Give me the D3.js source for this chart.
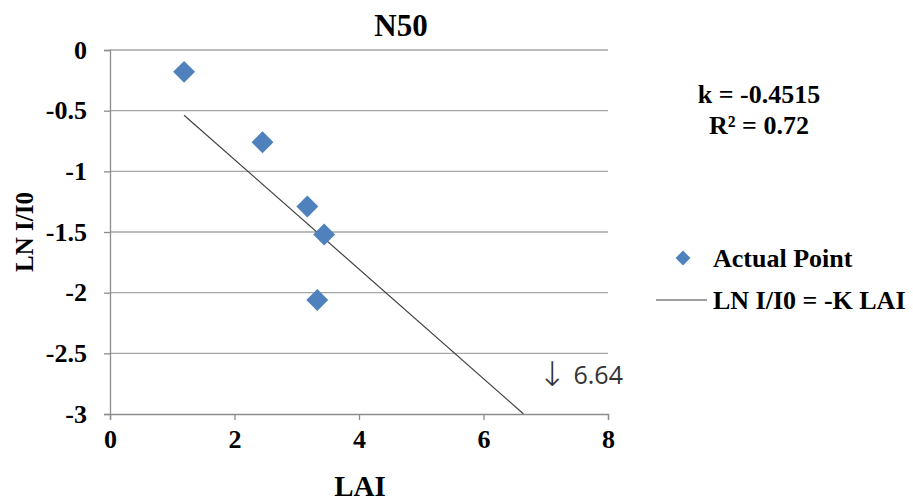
<!DOCTYPE html>
<html>
<head>
<meta charset="utf-8">
<script src="https://cdn.jsdelivr.net/npm/d3@7"></script>
<style>
  body { margin: 0; background: #fff; }
</style>
</head>
<body>
<script>
var width = 913;
var height = 502;

// data
var lai = [1.19, 2.45, 3.17, 3.44, 3.33];
var lnI = [-0.18, -0.76, -1.29, -1.52, -2.06];
var k = -0.4515;
var fitX = [1.19, 6.64];
var xTicks = [0, 2, 4, 6, 8];
var yTicks = [0, -0.5, -1, -1.5, -2, -2.5, -3];

var serif = "'Liberation Serif', 'Times New Roman', serif";
var margin = {left: 110, right: 305, top: 50, bottom: 88};

var x = d3.scaleLinear().domain([0, 8]).range([margin.left, width - margin.right]);
var y = d3.scaleLinear().domain([-3, 0]).range([height - margin.bottom, margin.top]);

var svg = d3.select("body")
    .append("svg")
    .attr("width", width)
    .attr("height", height)
    .style("font-family", serif);

// grid lines
svg.selectAll(".grid")
    .data(yTicks.filter(function(d) { return d != -3; }))
    .enter()
    .append("line")
    .attr("x1", x(0))
    .attr("x2", x(8))
    .attr("y1", function(d) { return y(d); })
    .attr("y2", function(d) { return y(d); })
    .attr("stroke", "#a6a6a6")
    .attr("stroke-width", 1.3);

var xAxis = svg.append("g")
    .attr("transform", "translate(0," + y(-3) + ")")
    .call(d3.axisBottom(x).tickValues(xTicks).tickSize(6).tickFormat(d3.format("d")));

var yAxis = svg.append("g")
    .attr("transform", "translate(" + x(0) + ",0)")
    .call(d3.axisLeft(y).tickValues(yTicks).tickSize(6).tickFormat(function(d) { return d; }));

[xAxis, yAxis].forEach(function(a) {
    a.attr("font-family", null).attr("font-size", null);
    a.select(".domain").attr("stroke", "#8c8c8c").attr("stroke-width", 1.3);
    a.selectAll(".tick line").attr("stroke", "#8c8c8c").attr("stroke-width", 1.3);
    a.selectAll(".tick text")
        .attr("fill", "#000")
        .style("font-size", "26px")
        .style("font-weight", "bold")
        .style("font-family", serif);
});
xAxis.selectAll(".tick text").attr("y", 16).attr("dy", "0.71em");
yAxis.selectAll(".tick text").attr("x", -23);

// fitted line
var line = d3.line()
    .x(function(d) { return x(d); })
    .y(function(d) { return y(k * d); });

svg.append("path")
    .datum(fitX)
    .attr("d", line)
    .attr("fill", "none")
    .attr("stroke", "#404040")
    .attr("stroke-width", 1.2);

// points
var diamond = d3.symbol().type(d3.symbolSquare).size(240);
svg.selectAll(".pt")
    .data(lai)
    .enter()
    .append("path")
    .attr("d", diamond)
    .attr("transform", function(d, i) {
        return "translate(" + x(d) + "," + y(lnI[i]) + ") rotate(45)";
    })
    .attr("fill", "#4f81bd");

// title and labels
svg.append("text")
    .attr("x", 401).attr("y", 36)
    .attr("text-anchor", "middle")
    .style("font-size", "31px").style("font-weight", "bold")
    .text("N50");

svg.append("text")
    .attr("x", 360).attr("y", 496)
    .attr("text-anchor", "middle")
    .style("font-size", "29px").style("font-weight", "bold")
    .text("LAI");

svg.append("text")
    .attr("transform", "translate(33,232) rotate(-90)")
    .attr("text-anchor", "middle")
    .style("font-size", "25px").style("font-weight", "bold")
    .text("LN I/I0");

svg.append("text")
    .attr("x", 759).attr("y", 103)
    .attr("text-anchor", "middle")
    .style("font-size", "26px").style("font-weight", "bold")
    .text("k = -0.4515");

svg.append("text")
    .attr("x", 759).attr("y", 134)
    .attr("text-anchor", "middle")
    .style("font-size", "26px").style("font-weight", "bold")
    .text("R² = 0.72");

// annotation
var ann = svg.append("text")
    .attr("x", 538).attr("y", 386)
    .style("font-size", "25px")
    .style("font-family", "'Open Sans', 'DejaVu Sans', sans-serif")
    .attr("fill", "#333");
ann.append("tspan")
    .style("font-family", "'DejaVu Sans', sans-serif")
    .style("font-size", "34px")
    .style("font-weight", "200")
    .text("\u2193");
ann.append("tspan").attr("dx", 7).attr("dy", -2).text("6.64");

// legend
svg.append("path")
    .attr("d", d3.symbol().type(d3.symbolSquare).size(110))
    .attr("transform", "translate(683,258) rotate(45)")
    .attr("fill", "#4f81bd");
svg.append("text")
    .attr("x", 713).attr("y", 267)
    .style("font-size", "26px").style("font-weight", "bold")
    .text("Actual Point");

svg.append("line")
    .attr("x1", 656).attr("x2", 707)
    .attr("y1", 300).attr("y2", 300)
    .attr("stroke", "#404040").attr("stroke-width", 1.2);
svg.append("text")
    .attr("x", 713).attr("y", 309)
    .style("font-size", "26px").style("font-weight", "bold")
    .text("LN I/I0 = -K LAI");
</script>
</body>
</html>
